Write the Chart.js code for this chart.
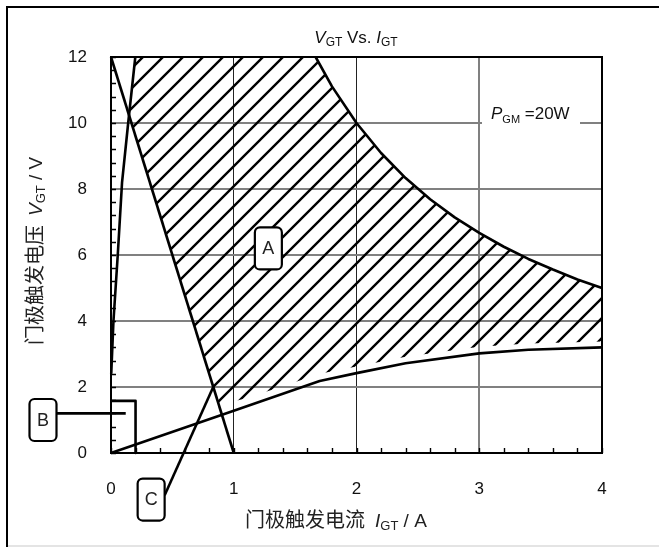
<!DOCTYPE html>
<html>
<head>
<meta charset="utf-8">
<script src="https://cdn.jsdelivr.net/npm/chart.js@4.4.1/dist/chart.umd.min.js"></script>
<style>
  html, body { margin: 0; padding: 0; background: #fff; overflow: hidden; }
  #wrap { position: relative; width: 659px; height: 547px; }
  canvas { display: block; }
</style>
</head>
<body>
<div id="wrap"><canvas id="c" width="659" height="547"></canvas></div>
<script>
// ---------- data (gate current I in A, gate voltage V in V) ----------
const xTicks = [0, 1, 2, 3, 4];
const yTicks = [0, 2, 4, 6, 8, 10, 12];

// falling load line from 12 V at 0 A to 0 V at 1 A
const steepLine = [{x: 0, y: 12}, {x: 1, y: 0}];
// upper-left boundary curve, nearly vertical
const riseCurve = [
  {x: 0.002, y: 2.4}, {x: 0.02, y: 4.0}, {x: 0.055, y: 6.0},
  {x: 0.09, y: 8.2}, {x: 0.14, y: 10.0}, {x: 0.198, y: 12.0}
];
// peak gate power P_GM = 20 W
const powerCurve = [
  {x: 1.667, y: 12.0}, {x: 1.8, y: 11.11}, {x: 2.0, y: 10.0}, {x: 2.2, y: 9.09},
  {x: 2.4, y: 8.33}, {x: 2.6, y: 7.69}, {x: 2.8, y: 7.14}, {x: 3.0, y: 6.67},
  {x: 3.2, y: 6.25}, {x: 3.4, y: 5.88}, {x: 3.6, y: 5.56}, {x: 3.8, y: 5.26},
  {x: 4.0, y: 5.0}
];
// lower gate characteristic
const lowerCurve = [
  {x: 0, y: 0}, {x: 1.0, y: 1.28}, {x: 1.7, y: 2.18}, {x: 2.0, y: 2.42},
  {x: 2.4, y: 2.72}, {x: 3.0, y: 3.02}, {x: 3.4, y: 3.13}, {x: 4.0, y: 3.2}
];
// lower edge of the hatching, just above the lower characteristic
const hatchFloor = [
  {x: 0.879, y: 1.45}, {x: 1.1, y: 1.66}, {x: 1.4, y: 2.02}, {x: 1.7, y: 2.4},
  {x: 2.0, y: 2.62}, {x: 2.4, y: 2.92}, {x: 3.0, y: 3.22}, {x: 3.4, y: 3.32},
  {x: 4.0, y: 3.38}
];
// region B bracket and the two leader lines
const boxB = [{x: 0, y: 1.58}, {x: 0.2, y: 1.58}, {x: 0.2, y: 0}];
const leaderB = [{x: -0.446, y: 1.2}, {x: 0.12, y: 1.2}];
const leaderC = [{x: 0.437, y: -1.28}, {x: 0.833, y: 2.0}];
// region tags
const tagLabels = ['A', 'B', 'C'];
const tagPoints = [{x: 1.282, y: 6.2}, {x: -0.554, y: 1.0}, {x: 0.327, y: -1.41}];

// hatched region A: rise curve top, 12 V edge, power curve, down the 4 A edge,
// back along the floor and up the load line
const hatchRegion = [
  {x: 0.15, y: 10.2},
  ...riseCurve.filter(p => p.y > 10.2),
  ...powerCurve,
  ...hatchFloor.slice().reverse()
];

// ---------- drawing ----------
const LATIN = '"Liberation Sans", Arial, sans-serif';
const CJK = '"Noto Sans CJK SC", sans-serif';

function makeHatch(period, width) {
  const c = document.createElement('canvas');
  c.width = period; c.height = period;
  const g = c.getContext('2d');
  g.strokeStyle = '#000';
  g.lineWidth = width;
  g.beginPath();
  g.moveTo(-2, period + 2); g.lineTo(period + 2, -2);
  g.moveTo(-2, 2); g.lineTo(2, -2);
  g.moveTo(period - 2, period + 2); g.lineTo(period + 2, period - 2);
  g.stroke();
  return g.createPattern(c, 'repeat');
}

const ctx0 = document.getElementById('c').getContext('2d');
const hatch = makeHatch(20, 2.4);

function lineSet(data, extra) {
  return Object.assign({
    data, borderColor: '#000', borderWidth: 2.6, pointRadius: 0,
    fill: false, tension: 0, clip: false, order: 1,
    borderJoinStyle: 'round', borderCapStyle: 'butt'
  }, extra || {});
}

// rich text: runs of {t, f, dy, gap}
function richWidth(g, runs) {
  let w = 0;
  for (const r of runs) { g.font = r.f; w += g.measureText(r.t).width + (r.gap || 0); }
  return w;
}
function drawRich(g, runs, x, y) {
  let cx = x;
  g.textBaseline = 'alphabetic';
  g.textAlign = 'left';
  for (const r of runs) {
    g.font = r.f;
    g.fillText(r.t, cx, y + (r.dy || 0));
    cx += g.measureText(r.t).width + (r.gap || 0);
  }
}

const decor = {
  id: 'decor',
  beforeDatasetsDraw(chart) {
    const g = chart.ctx;
    // P_GM label sitting on the 10 V grid line
    g.save();
    g.fillStyle = '#fff';
    g.fillRect(482, 98, 98, 28);
    g.fillStyle = '#111';
    drawRich(g, [
      {t: 'P', f: 'italic 17px ' + LATIN},
      {t: 'GM', f: '11px ' + LATIN, dy: 4},
      {t: ' =20W', f: '17px ' + LATIN}
    ], 491, 118.5);
    g.restore();
  },
  afterDatasetsDraw(chart) {
    const g = chart.ctx;
    const xs = chart.scales.x, ys = chart.scales.y;
    const a = chart.chartArea;
    g.save();
    // inward minor ticks
    g.strokeStyle = '#000';
    g.lineWidth = 1.4;
    g.beginPath();
    for (let i = 0; i <= 20; i++) {
      const px = Math.round(xs.getPixelForValue(i * 0.2)) + 0.5;
      g.moveTo(px, a.bottom); g.lineTo(px, a.bottom - 5);
    }
    for (let i = 0; i <= 30; i++) {
      const py = Math.round(ys.getPixelForValue(i * 0.4)) + 0.5;
      g.moveTo(a.left, py); g.lineTo(a.left + 5, py);
    }
    g.stroke();
    // plot frame
    g.lineWidth = 2;
    g.strokeRect(a.left, a.top, a.right - a.left, a.bottom - a.top);
    // region tags
    tagPoints.forEach((p, i) => {
      const cx = xs.getPixelForValue(p.x), cy = ys.getPixelForValue(p.y);
      const w = 27, h = 42, r = 5;
      g.beginPath();
      g.roundRect(cx - w / 2, cy - h / 2, w, h, r);
      g.fillStyle = '#fff';
      g.fill();
      g.lineWidth = 2.2;
      g.strokeStyle = '#000';
      g.stroke();
      g.fillStyle = '#222';
      g.font = '18px ' + LATIN;
      g.textAlign = 'center';
      g.textBaseline = 'middle';
      g.fillText(tagLabels[i], cx, cy + 1);
    });
    g.restore();
  },
  afterDraw(chart) {
    const g = chart.ctx;
    g.save();
    g.fillStyle = '#111';
    // title
    const title = [
      {t: 'V', f: 'italic 17px ' + LATIN},
      {t: 'GT', f: '12px ' + LATIN, dy: 3},
      {t: ' Vs. ', f: '17px ' + LATIN},
      {t: 'I', f: 'italic 17px ' + LATIN},
      {t: 'GT', f: '12px ' + LATIN, dy: 3}
    ];
    const tw = richWidth(g, title);
    drawRich(g, title, 356 - tw / 2, 42.5);
    // x axis title
    g.fillStyle = '#222';
    drawRich(g, [
      {t: '门极触发电流', f: '20px ' + CJK, gap: 10},
      {t: 'I', f: 'italic 19px ' + LATIN},
      {t: 'GT', f: '13px ' + LATIN, dy: 3},
      {t: ' / A', f: '19px ' + LATIN}
    ], 245, 527);
    // y axis title, rotated
    g.translate(42, 345);
    g.rotate(-Math.PI / 2);
    drawRich(g, [
      {t: '门极触发电压', f: '20px ' + CJK, gap: 9},
      {t: 'V', f: 'italic 19px ' + LATIN},
      {t: 'GT', f: '13px ' + LATIN, dy: 3},
      {t: ' / V', f: '19px ' + LATIN}
    ], 0, 0);
    g.restore();
    // outer frame
    g.save();
    g.fillStyle = '#000';
    g.fillRect(6, 6, 2, 541);
    g.fillRect(6, 6, 653, 2);
    g.fillStyle = '#e4e4e4';
    g.fillRect(8, 545, 651, 2);
    g.restore();
  }
};

new Chart(ctx0, {
  type: 'line',
  data: {
    datasets: [
      {data: hatchRegion, borderColor: 'rgba(0,0,0,0)', borderWidth: 0, pointRadius: 0,
       backgroundColor: hatch, fill: 'shape', tension: 0, order: 10},
      lineSet(steepLine),
      lineSet(riseCurve),
      lineSet(powerCurve),
      lineSet(lowerCurve),
      lineSet(boxB),
      lineSet(leaderB),
      lineSet(leaderC)
    ]
  },
  options: {
    responsive: false,
    animation: false,
    events: [],
    layout: {padding: {top: 57, right: 57, left: 0, bottom: 0}},
    plugins: {legend: {display: false}, tooltip: {enabled: false}},
    scales: {
      x: {
        type: 'linear', min: 0, max: 4,
        afterBuildTicks: s => { s.ticks = xTicks.map(v => ({value: v})); },
        afterFit: s => { s.height = 94; },
        ticks: {font: {family: LATIN, size: 17}, color: '#111', padding: 26, maxRotation: 0},
        grid: {
          drawTicks: false,
          color: c => (c.tick && c.tick.value === 3) ? '#808080' : '#222',
          lineWidth: c => (c.tick && c.tick.value === 3) ? 2 : 1
        },
        border: {color: '#000', width: 2}
      },
      y: {
        type: 'linear', min: 0, max: 12,
        afterBuildTicks: s => { s.ticks = yTicks.map(v => ({value: v})); },
        afterFit: s => { s.width = 111; },
        ticks: {font: {family: LATIN, size: 17}, color: '#111', padding: 24},
        grid: {drawTicks: false, color: '#808080', lineWidth: 2},
        border: {color: '#000', width: 2}
      }
    }
  },
  plugins: [decor]
});
</script>
</body>
</html>
